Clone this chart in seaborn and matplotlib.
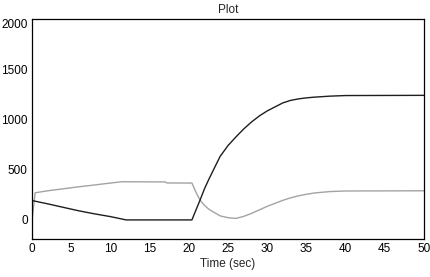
import pandas as pd
import seaborn as sns
import matplotlib
matplotlib.use("Agg")
import matplotlib.pyplot as plt

# Datos
t_dark = [0, 2, 4, 6, 8, 10, 12, 20.4, 21.0, 21.5, 22.0, 22.5, 23, 24, 25, 26, 27, 28,
          29, 30, 31, 32, 33, 34, 35, 36, 38, 40, 50]
v_dark = [193, 160, 125, 90, 60, 33, 0, 0, 115, 210, 310, 395, 475, 633, 740, 825, 905, 975,
          1035, 1085, 1125, 1165, 1190, 1205, 1215, 1222, 1232, 1238, 1240]

# la serie gris arranca abajo del eje en t=0
t_grey = [0, 0, 0.4, 2, 4, 6, 8, 10, 11.5, 17, 17.2, 20.4, 21.0, 21.5, 22, 22.5, 23, 24, 25,
          26, 27, 28, 29, 30, 31, 32, 33, 34, 35, 36, 38, 40, 50]
v_grey = [-250, 233, 270, 290, 310, 330, 348, 367, 380, 378, 368, 367, 260, 190, 145, 110, 85, 40, 22,
          15, 35, 65, 100, 135, 165, 195, 220, 240, 255, 268, 282, 288, 290]

x_ticks = [0, 5, 10, 15, 20, 25, 30, 35, 40, 45, 50]
y_ticks = [0, 500, 1000, 1500, 2000]

dark = pd.DataFrame({"t": t_dark, "v": v_dark})
grey = pd.DataFrame({"t": t_grey, "v": v_grey})

sns.set_style("white")
plt.rcParams["font.family"] = ["Liberation Sans", "DejaVu Sans"]

fig = plt.figure(figsize=(4.31, 2.77), dpi=100)
ax = fig.add_axes([32 / 431, 1 - 239 / 277, 392 / 431, 220 / 277])

sns.lineplot(data=grey, x="t", y="v", color="#a3a3a3", linewidth=1.0, sort=False, ax=ax)
sns.lineplot(data=dark, x="t", y="v", color="#1e1e1e", linewidth=1.0, sort=False, ax=ax)

ax.set_xlim(0, 50)
ax.set_ylim(-190, 2000)
ax.set_xticks(x_ticks)
ax.set_yticks(y_ticks)
ax.tick_params(direction="in", length=5, width=0.8, colors="black", labelsize=8.5, pad=3)
ax.tick_params(axis="y", length=6)
for s in ax.spines.values():
    s.set_color("black")
    s.set_linewidth(0.9)

# la etiqueta superior queda un poco por debajo del tick
ax.get_yticklabels()[-1].set_va("top")

ax.set_title("Plot", fontsize=8.5, pad=4)
ax.set_xlabel("Time (sec)", fontsize=8.5, labelpad=2)
ax.set_ylabel("")

fig.savefig("out.png", dpi=100)
